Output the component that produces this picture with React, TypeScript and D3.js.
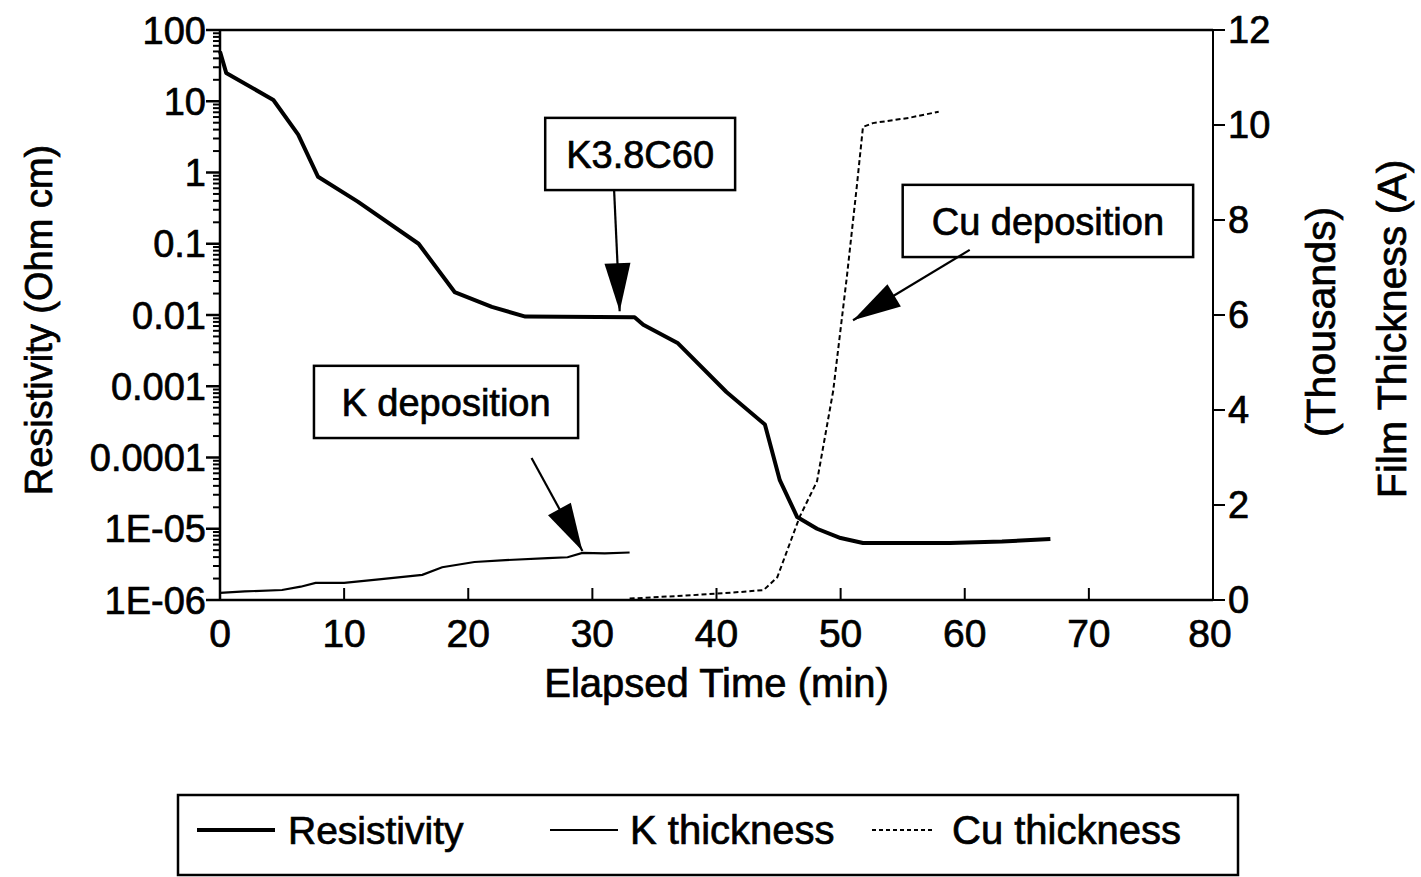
import React from "react";
import * as d3 from "d3";

// ---- data ----
const resTime = [0, 0.5, 4.3, 6.3, 7.9, 11.1, 16.0, 18.9, 21.9, 24.6, 33.4, 34.1, 36.9, 40.8, 43.9, 45.1, 46.5, 48.1, 50.0, 51.8, 58.8, 63.0, 66.9];
const resVal = [50, 25, 10.4, 3.4, 0.87, 0.39, 0.1, 0.021, 0.013, 0.0095, 0.0093, 0.0073, 0.004, 0.00083, 0.00029, 0.000048, 0.0000146, 0.00001, 0.0000074, 0.0000063, 0.0000063, 0.0000066, 0.0000072];

const kTime = [0, 2, 5, 6.5, 7.7, 10, 13, 16.3, 17.9, 20.5, 23, 26.4, 28, 29.2, 31, 33];
const kVal = [0.15, 0.18, 0.21, 0.28, 0.36, 0.36, 0.44, 0.53, 0.69, 0.8, 0.84, 0.88, 0.9, 0.99, 0.98, 1.0];

const cuTime = [33, 38, 42, 43.8, 44.9, 46.7, 48.1, 49.4, 50.5, 51.3, 51.8, 52.6, 55.5, 57.9];
const cuVal = [0.03, 0.1, 0.17, 0.21, 0.48, 1.75, 2.5, 4.4, 6.8, 8.7, 9.96, 10.04, 10.15, 10.28];

const xTicks = [0, 10, 20, 30, 40, 50, 60, 70, 80];
const leftTicks = [1e-6, 1e-5, 1e-4, 1e-3, 1e-2, 0.1, 1, 10, 100];
const leftTickLabels = ["1E-06", "1E-05", "0.0001", "0.001", "0.01", "0.1", "1", "10", "100"];
const rightTicks = [0, 2, 4, 6, 8, 10, 12];

// annotations: box in (time, thousands) + arrow from/to
const annotations = [
  { text: "K3.8C60", box: [26.2, 41.5, 10.15, 8.63], from: [31.75, 8.63], to: [32.2, 6.08] },
  { text: "Cu deposition", box: [55.0, 78.4, 8.74, 7.22], from: [60.4, 7.37], to: [51.0, 5.89] },
  { text: "K deposition", box: [7.57, 28.85, 4.93, 3.41], from: [25.1, 2.99], to: [29.2, 1.03] },
];

const legendItems = ["Resistivity", "K thickness", "Cu thickness"];

const W = 1421;
const H = 877;
const FONT = "'Liberation Sans', Arial, Helvetica, sans-serif";
const TS = { stroke: "#000", strokeWidth: 0.7 };

export default function App() {
  const x = d3.scaleLinear().domain([0, 80]).range([220, 1213]);
  const yL = d3.scaleLog().domain([1e-6, 100]).range([600, 30]);
  const yR = d3.scaleLinear().domain([0, 12]).range([600, 30]);

  const resLine = d3.line<number>().x((_, i) => x(resTime[i])).y((_, i) => yL(resVal[i]));
  const kLine = d3.line<number>().x((_, i) => x(kTime[i])).y((_, i) => yR(kVal[i]));
  const cuLine = d3.line<number>().x((_, i) => x(cuTime[i])).y((_, i) => yR(cuVal[i]));

  const minorTicks: number[] = [];
  for (let e = -6; e < 2; e++) {
    for (let m = 2; m <= 9; m++) minorTicks.push(m * Math.pow(10, e));
  }

  const [x0, x1] = x.range();
  const [yb, yt] = yL.range();

  const arrowHead = (fx: number, fy: number, tx: number, ty: number) => {
    const dx = tx - fx, dy = ty - fy;
    const len = Math.hypot(dx, dy);
    const ux = dx / len, uy = dy / len;
    const hl = 48, hw = 13;
    const bx = tx - ux * hl, by = ty - uy * hl;
    return `M${tx},${ty}L${bx - uy * hw},${by + ux * hw}L${bx + uy * hw},${by - ux * hw}Z`;
  };

  return (
    <svg width={W} height={H} style={{ position: "absolute", left: 0, top: 0, background: "#fff" }} fontFamily={FONT}>
      <rect x={0} y={0} width={W} height={H} fill="#fff" />
      {/* frame */}
      <line x1={x0} x2={x1} y1={yt} y2={yt} stroke="#000" strokeWidth={2.5} />
      <line x1={x0} x2={x1} y1={yb} y2={yb} stroke="#000" strokeWidth={2.5} />
      <line x1={x0} x2={x0} y1={yt} y2={yb} stroke="#000" strokeWidth={2.5} />
      <line x1={x1} x2={x1} y1={yt} y2={yb} stroke="#000" strokeWidth={2} />

      {/* left ticks */}
      {minorTicks.map((v, i) => (
        <line key={"m" + i} x1={x0 - 7} x2={x0} y1={yL(v)} y2={yL(v)} stroke="#000" strokeWidth={2} />
      ))}
      {leftTicks.map((v, i) => (
        <g key={"l" + i}>
          <line x1={x0 - 14} x2={x0} y1={yL(v)} y2={yL(v)} stroke="#000" strokeWidth={2.5} />
          <text x={x0 - 14} y={yL(v)} dy="0.36em" textAnchor="end" fontSize={38} {...TS}>{leftTickLabels[i]}</text>
        </g>
      ))}

      {/* right ticks */}
      {rightTicks.map((v) => (
        <g key={"r" + v}>
          <line x1={x1} x2={x1 + 12} y1={yR(v)} y2={yR(v)} stroke="#000" strokeWidth={2} />
          <text x={x1 + 15} y={yR(v)} dy="0.33em" textAnchor="start" fontSize={38} {...TS}>{v}</text>
        </g>
      ))}

      {/* x ticks */}
      {xTicks.map((v) => (
        <g key={"x" + v}>
          <line x1={x(v)} x2={x(v)} y1={yb} y2={yb - 12} stroke="#000" strokeWidth={2} />
          <text x={x(v) - (v === 80 ? 3 : 0)} y={yb + 47} textAnchor="middle" fontSize={39} {...TS}>{v}</text>
        </g>
      ))}

      {/* axis titles */}
      <text x={(x0 + x1) / 2} y={697} textAnchor="middle" fontSize={40} {...TS}>Elapsed Time (min)</text>
      <text transform={`translate(52,${(yt + yb) / 2 + 5}) rotate(-90)`} textAnchor="middle" fontSize={38} {...TS}>Resistivity (Ohm cm)</text>
      <text transform={`translate(1335,322) rotate(-90)`} textAnchor="middle" fontSize={41} {...TS}>(Thousands)</text>
      <text transform={`translate(1406,329) rotate(-90)`} textAnchor="middle" fontSize={41} {...TS}>Film Thickness (A)</text>

      {/* series */}
      <path d={cuLine(cuTime) || ""} fill="none" stroke="#000" strokeWidth={2} strokeDasharray="5,3" />
      <path d={kLine(kTime) || ""} fill="none" stroke="#000" strokeWidth={2.2} />
      <path d={resLine(resTime) || ""} fill="none" stroke="#000" strokeWidth={4} strokeLinejoin="round" />

      {/* annotations */}
      {annotations.map((a) => {
        const bx0 = x(a.box[0]), bx1 = x(a.box[1]);
        const by0 = yR(a.box[2]), by1 = yR(a.box[3]);
        const fx = x(a.from[0]), fy = yR(a.from[1]);
        const tx = x(a.to[0]), ty = yR(a.to[1]);
        return (
          <g key={a.text}>
            <rect x={bx0} y={by0} width={bx1 - bx0} height={by1 - by0} fill="#fff" stroke="#000" strokeWidth={2.5} />
            <text x={(bx0 + bx1) / 2} y={(by0 + by1) / 2} dy="0.36em" textAnchor="middle" fontSize={38} {...TS}>{a.text}</text>
            <line x1={fx} y1={fy} x2={tx} y2={ty} stroke="#000" strokeWidth={2.2} />
            <path d={arrowHead(fx, fy, tx, ty)} fill="#000" />
          </g>
        );
      })}

      {/* legend */}
      <rect x={178} y={795} width={1060} height={80} fill="#fff" stroke="#000" strokeWidth={2.5} />
      <line x1={197} x2={275} y1={830} y2={830} stroke="#000" strokeWidth={4} />
      <text x={288} y={830} dy="0.36em" fontSize={39} {...TS}>{legendItems[0]}</text>
      <line x1={550} x2={618} y1={830} y2={830} stroke="#000" strokeWidth={2.2} />
      <text x={630} y={830} dy="0.36em" fontSize={40} {...TS}>{legendItems[1]}</text>
      <line x1={872} x2={935} y1={830} y2={830} stroke="#000" strokeWidth={2} strokeDasharray="4,3" />
      <text x={952} y={830} dy="0.36em" fontSize={40} {...TS}>{legendItems[2]}</text>
    </svg>
  );
}
